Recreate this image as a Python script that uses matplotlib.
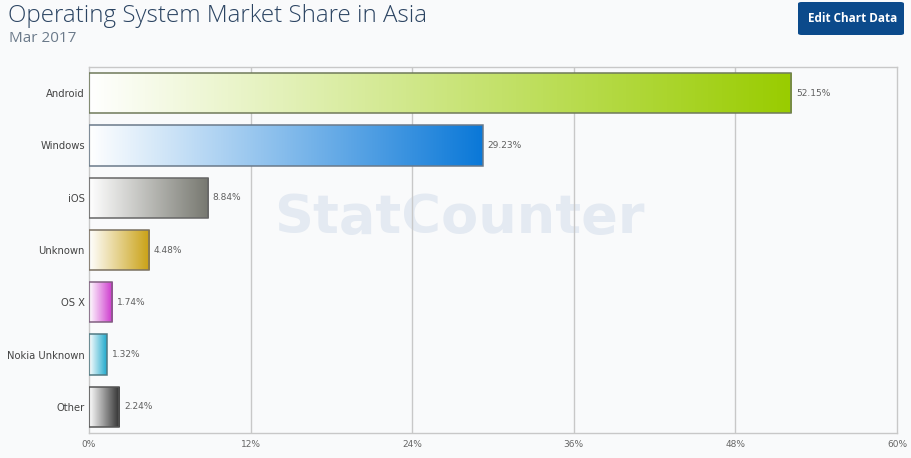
import matplotlib
matplotlib.use("Agg")
import matplotlib.pyplot as plt
import numpy as np
from matplotlib.colors import LinearSegmentedColormap
from matplotlib.patches import FancyBboxPatch

categories = ["Android", "Windows", "iOS", "Unknown", "OS X", "Nokia Unknown", "Other"]
values = [52.15, 29.23, 8.84, 4.48, 1.74, 1.32, 2.24]
end_colors = ["#99cc00", "#0a78d8", "#76776f", "#c9a012", "#cc33cc", "#1fa9cc", "#2e2e2e"]
edge_colors = ["#6f7a5a", "#6a7a8a", "#666666", "#7a7060", "#806080", "#507a84", "#555555"]
xticks = [0, 12, 24, 36, 48, 60]
xticklabels = ["0%", "12%", "24%", "36%", "48%", "60%"]

bg = "#f9fafb"
fig = plt.figure(figsize=(9.12, 4.58), dpi=100, facecolor=bg)
ax = fig.add_axes([89/912, 1 - 433/458, (897-89)/912, (433-67)/458])
ax.set_facecolor(bg)

# watermark
ax.text(0.459, 0.587, "StatCounter", transform=ax.transAxes, ha="center", va="center",
        fontsize=39, fontweight="bold", color="#e4eaf2", family="DejaVu Sans", zorder=0)

for x in xticks[1:-1]:
    ax.axvline(x, color="#c8c8c8", lw=1, zorder=1)

h = 0.77
grad = np.linspace(0, 1, 256).reshape(1, -1)
bars = ax.barh(range(len(categories)), values, height=h, color="none", zorder=3)
for i, (b, v, c, ec) in enumerate(zip(bars, values, end_colors, edge_colors)):
    cmap = LinearSegmentedColormap.from_list("g%d" % i, ["#ffffff", c])
    im = ax.imshow(grad, cmap=cmap, aspect="auto",
                   extent=(0, v, i + h/2, i - h/2), zorder=2, interpolation="bilinear")
    im.set_clip_path(b)
    b.set_edgecolor(ec)
    b.set_linewidth(1.1)
    ax.text(v + 0.35, i, f"{v:.2f}%", va="center", ha="left", fontsize=6.5, color="#606060", zorder=4)

ax.set_xlim(0, 60)
ax.set_ylim(len(categories) - 0.5, -0.5)
ax.set_yticks(range(len(categories)))
ax.set_yticklabels(categories, fontsize=7.2, color="#444444")
ax.set_xticks(xticks)
ax.set_xticklabels(xticklabels, fontsize=6.5, color="#666666")
ax.tick_params(axis="y", length=0, pad=3)
ax.tick_params(axis="x", length=0, pad=5)
for s in ax.spines.values():
    s.set_color("#c8c8c8")
    s.set_linewidth(1)

fig.text(8/912, 1 - 16/458, "Operating System Market Share in Asia", fontsize=17.4,
         color="#2b4462", family="Open Sans", fontweight="light", va="center", ha="left")
fig.text(9/912, 1 - 38/458, "Mar 2017", fontsize=11, color="#6b7a8a",
         family="Open Sans", va="center", ha="left")

btn = FancyBboxPatch((798/912, 1 - 35/458), 106/912, 33/458,
                     boxstyle="round,pad=0,rounding_size=0.004",
                     transform=fig.transFigure, facecolor="#0b4a8b", edgecolor="none")
fig.patches.append(btn)
fig.text(853/912, 1 - 18.5/458, "Edit Chart Data", fontsize=8.5, color="white",
         fontweight="bold", family="Open Sans", ha="center", va="center")

fig.savefig("out.png", dpi=100, facecolor=bg)
